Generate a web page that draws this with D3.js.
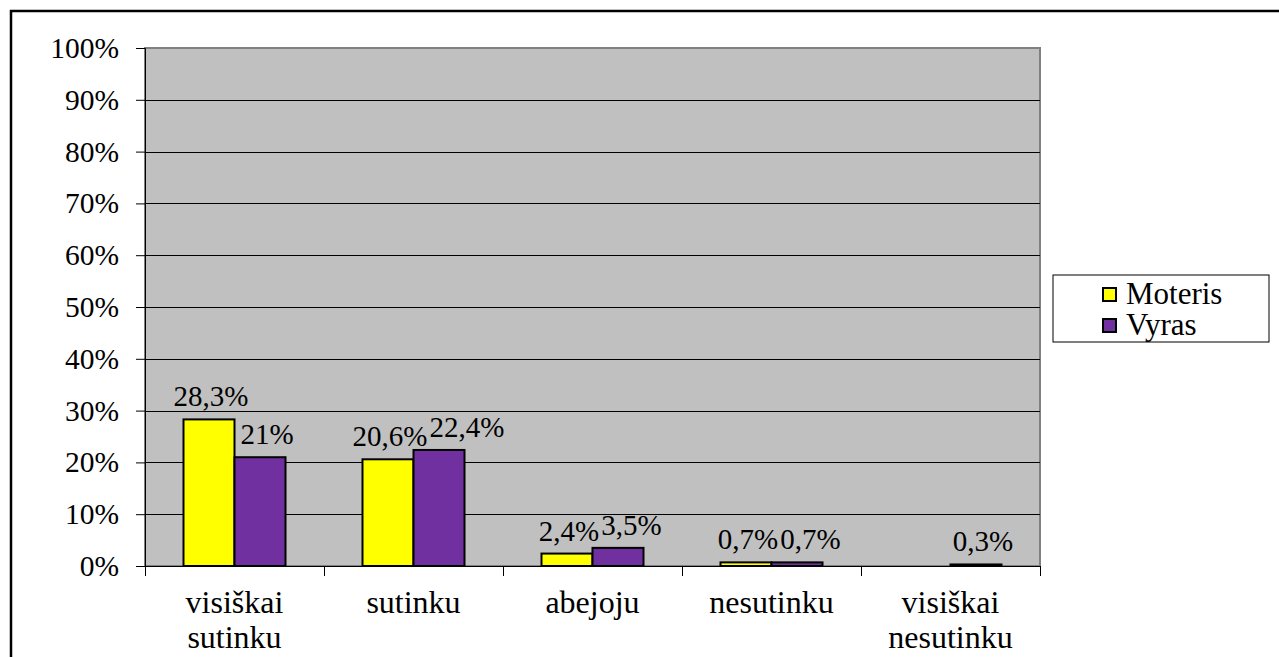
<!DOCTYPE html>
<html>
<head>
<meta charset="utf-8">
<script src="https://cdn.jsdelivr.net/npm/d3@7"></script>
<style>
  body { margin: 0; background: #fff; }
</style>
</head>
<body>
<svg width="1279" height="657"></svg>
<script>
const categories = [['visiškai', 'sutinku'], ['sutinku'], ['abejoju'], ['nesutinku'], ['visiškai', 'nesutinku']];
const seriesNames = ['Moteris', 'Vyras'];
const moteris = [28.3, 20.6, 2.4, 0.7, null];
const vyras = [21, 22.4, 3.5, 0.7, 0.3];
const valueLabels = [['28,3%', '20,6%', '2,4%', '0,7%', ''], ['21%', '22,4%', '3,5%', '0,7%', '0,3%']];
const yTicks = [0, 10, 20, 30, 40, 50, 60, 70, 80, 90, 100];
const colors = ['#ffff00', '#7030a0'];

const svg = d3.select('svg');
const margin = { left: 145, top: 48, right: 1040, bottom: 566 };
const serif = "'Liberation Serif'";

// outer frame
svg.append('rect')
  .attr('x', 11).attr('y', 11).attr('width', 1300).attr('height', 700)
  .attr('fill', 'none').attr('stroke', '#000').attr('stroke-width', 2.5);

const x = d3.scaleBand()
  .domain(d3.range(categories.length))
  .range([margin.left, margin.right]);
const x1 = d3.scaleBand()
  .domain(d3.range(seriesNames.length))
  .range([0, x.bandwidth()])
  .paddingOuter(0.755);
const y = d3.scaleLinear().domain([0, 100]).range([margin.bottom, margin.top]);

// plot area
svg.append('rect')
  .attr('x', margin.left).attr('y', margin.top)
  .attr('width', margin.right - margin.left).attr('height', margin.bottom - margin.top)
  .attr('fill', '#c0c0c0').attr('stroke', '#808080').attr('stroke-width', 2);

// gridlines
svg.append('g')
  .selectAll('line')
  .data(yTicks.filter(d => d > 0 && d < 100))
  .join('line')
  .attr('x1', margin.left).attr('x2', margin.right)
  .attr('y1', d => Math.round(y(d)) + 0.5).attr('y2', d => Math.round(y(d)) + 0.5)
  .attr('stroke', '#000').attr('stroke-width', 1);

// y axis
const yAxis = svg.append('g')
  .attr('transform', `translate(${margin.left},0)`)
  .call(d3.axisLeft(y).tickValues(yTicks).tickSize(9).tickPadding(17).tickFormat(d => `${d}%`));
yAxis.selectAll('line').attr('stroke', '#000');
yAxis.select('.domain').attr('stroke', '#000');
yAxis.selectAll('text')
  .style('font-family', serif)
  .style('font-size', '29.5px')
  .attr('fill', '#000');

// x axis line and ticks
const xg = svg.append('g');
xg.append('line')
  .attr('x1', margin.left).attr('x2', margin.right)
  .attr('y1', margin.bottom + 0.5).attr('y2', margin.bottom + 0.5)
  .attr('stroke', '#000');
xg.selectAll('.xt')
  .data(d3.range(categories.length + 1))
  .join('line')
  .attr('class', 'xt')
  .attr('x1', d => (d < categories.length ? x(d) : margin.right) + 0.5)
  .attr('x2', d => (d < categories.length ? x(d) : margin.right) + 0.5)
  .attr('y1', margin.bottom).attr('y2', margin.bottom + 10)
  .attr('stroke', '#000');

// category labels
categories.forEach((lines, i) => {
  const t = svg.append('text')
    .attr('text-anchor', 'middle')
    .style('font-family', serif)
    .style('font-size', '32px')
    .attr('fill', '#000');
  lines.forEach((ln, j) => {
    t.append('tspan')
      .attr('x', x(i) + x.bandwidth() / 2)
      .attr('y', 613 + j * 35)
      .text(ln);
  });
});

// bars
const series = [moteris, vyras];
series.forEach((vals, s) => {
  svg.append('g')
    .selectAll('rect')
    .data(vals.map((v, i) => ({ v, i })).filter(d => d.v !== null))
    .join('rect')
    .attr('x', d => x(d.i) + x1(s))
    .attr('width', x1.bandwidth())
    .attr('y', d => y(d.v))
    .attr('height', d => y(0) - y(d.v))
    .attr('fill', d => (d.v < 0.5 ? '#000' : colors[s]))
    .attr('stroke', '#000').attr('stroke-width', 2);
});

// value labels, nudged right when they would collide with the neighbour
const labelG = svg.append('g');
categories.forEach((c, i) => {
  let prev = null;
  series.forEach((vals, s) => {
    const v = vals[i];
    if (v === null) return;
    const cx = x(i) + x1(s) + x1.bandwidth() / 2;
    const by = y(v) - 13;
    const t = labelG.append('text')
      .attr('y', by)
      .attr('text-anchor', 'middle')
      .style('font-family', serif)
      .style('font-size', '29px')
      .attr('fill', '#000')
      .text(valueLabels[s][i]);
    const w = t.node().getComputedTextLength();
    let px = cx + (s === 0 ? 2 : 7);
    if (prev && Math.abs(prev.y - by) < 24) {
      px = Math.max(px, prev.right + 2 + w / 2);
    }
    t.attr('x', px);
    prev = { y: by, right: px + w / 2 };
  });
});

// legend
const lg = svg.append('g').attr('transform', 'translate(1053,275)');
lg.append('rect')
  .attr('width', 216).attr('height', 67)
  .attr('fill', '#fff').attr('stroke', '#000').attr('stroke-width', 1);
seriesNames.forEach((name, i) => {
  lg.append('rect')
    .attr('x', 50).attr('y', 13 + i * 31)
    .attr('width', 13).attr('height', 13)
    .attr('fill', colors[i]).attr('stroke', '#000').attr('stroke-width', 2);
  lg.append('text')
    .attr('x', 73).attr('y', 29 + i * 31)
    .style('font-family', serif)
    .style('font-size', '31px')
    .attr('fill', '#000')
    .text(name);
});
</script>
</body>
</html>
